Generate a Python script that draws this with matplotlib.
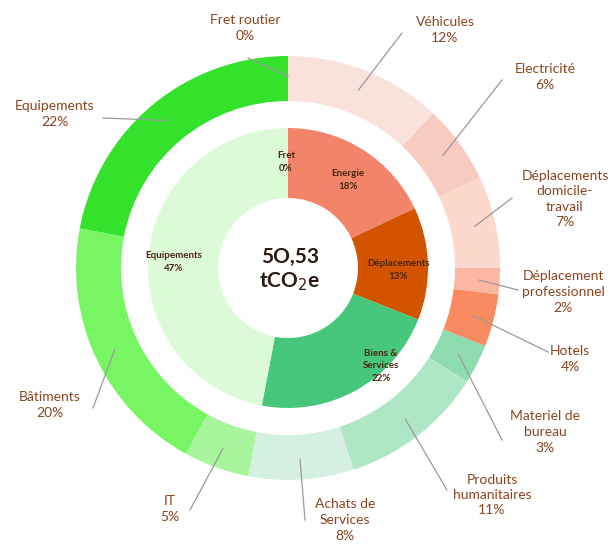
import matplotlib.pyplot as plt
import numpy as np

# outer ring (clockwise from top)
outer_labels = ["Véhicules", "Electricité", "Déplacements\ndomicile-\ntravail",
                "Déplacement\nprofessionnel", "Hotels", "Materiel de\nbureau",
                "Produits\nhumanitaires", "Achats de\nServices", "IT", "Bâtiments",
                "Equipements", "Fret routier"]
outer_values = [12, 6, 7, 2, 4, 3, 11, 8, 5, 20, 22, 0]
outer_colors = ["#f9e1dc", "#f8cbc1", "#fcd8cd", "#fbb7a2", "#fa8a60", "#8edbb0",
                "#aee6c6", "#d5f0e2", "#a8f59e", "#77f563", "#34e22b", "#34e22b"]

# inner ring
inner_labels = ["Energie", "Déplacements", "Biens &\nServices", "Equipements", "Fret"]
inner_values = [18, 13, 22, 47, 0]
inner_colors = ["#f2846a", "#d35400", "#47c77c", "#dcf9d8", "#dcf9d8"]

total = "5O,53"

# label text positions and line end points (pixels in the 614x549 picture)
outer_text_pos = [(445, 30), (545, 77), (565, 199), (563, 292), (570, 359),
                  (545, 432), (492, 495), (345, 520), (170, 509), (50, 405),
                  (55, 114), (245, 28)]
outer_line_end = [(402, 33), (502, 80), (512, 198), (518, 290), (548, 352),
                  (502, 440), (447, 490), (305, 520), (190, 510), (93, 408),
                  (103, 118), (248, 58)]

CX, CY = 288, 268
def to_data(p):
    return p[0] - CX, CY - p[1]

text_col = "#8a4420"
plt.rcParams["font.family"] = ["Lato", "DejaVu Sans"]

fig = plt.figure(figsize=(6.14, 5.49), dpi=100)
ax = fig.add_axes([0, 0, 1, 1])

R_out, W_out = 212, 45
R_in, W_in = 140, 70

ax.pie(outer_values, radius=R_out, colors=outer_colors, startangle=90,
       counterclock=False, wedgeprops=dict(width=W_out, linewidth=0))
ax.pie(inner_values, radius=R_in, colors=inner_colors, startangle=90,
       counterclock=False, wedgeprops=dict(width=W_in, linewidth=0))

# pie resets the limits, so set them afterwards
ax.set_xlim(-CX, 614 - CX)
ax.set_ylim(CY - 549, CY)
ax.set_aspect("equal")
ax.axis("off")

# outer labels with leader lines
cum = np.cumsum([0] + outer_values)
for i, lab in enumerate(outer_labels):
    mid = (cum[i] + cum[i + 1]) / 2 / 100 * 2 * np.pi
    r = R_out - W_out / 2 + 2
    sx, sy = r * np.sin(mid), r * np.cos(mid)
    ex, ey = to_data(outer_line_end[i])
    ax.plot([sx, ex], [sy, ey], color="#9a9a9a", lw=0.9)
    tx, ty = to_data(outer_text_pos[i])
    ax.text(tx, ty, f"{lab}\n{outer_values[i]}%", ha="center", va="center",
            fontsize=10, color=text_col, linespacing=1.35)

# inner labels
inner_text_pos = [(348, 180), (398, 270), (381, 366), (174, 262), (286, 162)]
for i, lab in enumerate(inner_labels):
    tx, ty = to_data(inner_text_pos[i])
    ax.text(tx, ty, f"{lab}\n{inner_values[i]}%", ha="center", va="center",
            fontsize=7, fontweight="bold", color="#4a2410", linespacing=1.5)

ax.text(2, -2, f"{total}\ntCO$_2$e", ha="center", va="center", fontsize=15,
        fontweight="bold", color="#2a1a12", linespacing=1.2)

fig.savefig("out.png", dpi=100)
